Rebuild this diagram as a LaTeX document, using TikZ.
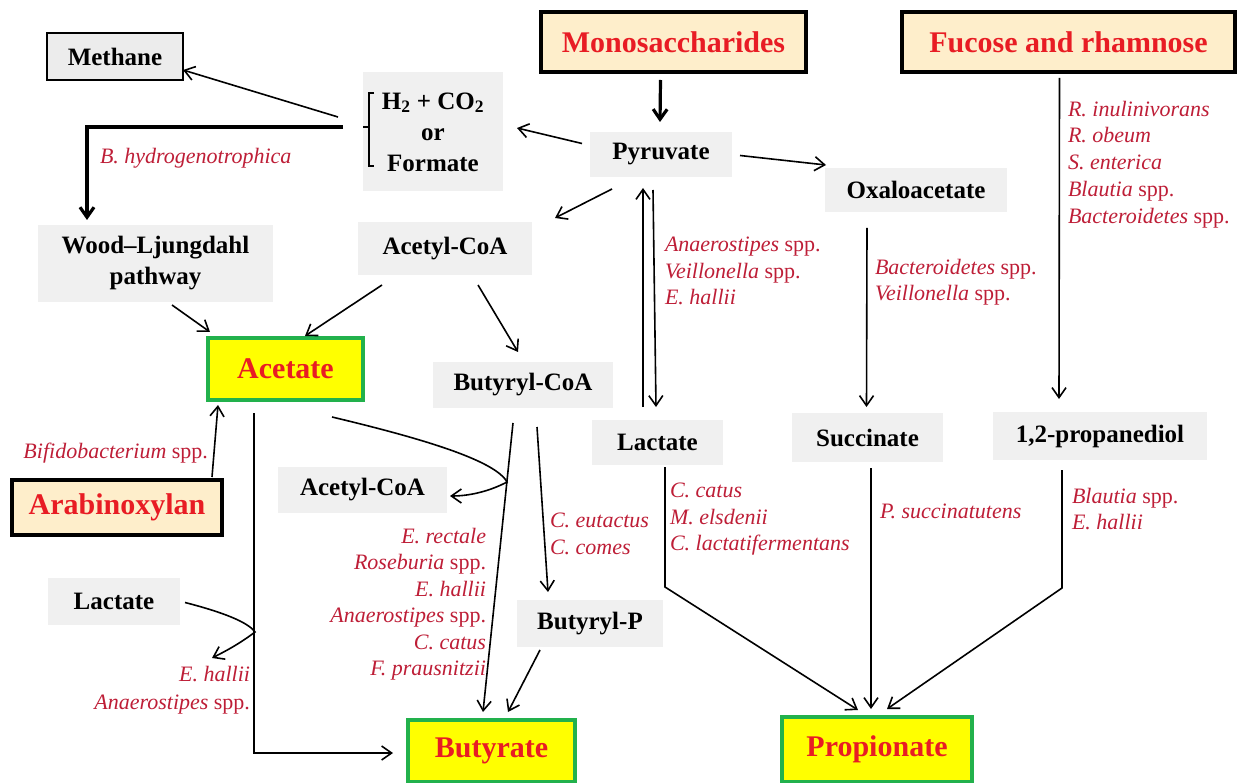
\documentclass[tikz,border=0pt]{standalone}
\usepackage{fontspec}
\setmainfont{Liberation Serif}
\usetikzlibrary{arrows.meta}
\definecolor{graybg}{RGB}{240,240,240}
\definecolor{methfill}{RGB}{236,236,236}
\definecolor{srcfill}{RGB}{254,238,203}
\definecolor{prodfill}{RGB}{255,255,0}
\definecolor{prodgreen}{RGB}{34,177,76}
\definecolor{titlered}{RGB}{232,28,36}
\definecolor{sppred}{RGB}{190,30,55}
\begin{document}
\begin{tikzpicture}[x=1pt,y=-1pt,
  every node/.style={inner sep=0pt, outer sep=0pt},
  gbox/.style={fill=graybg, font=\bfseries\fontsize{25}{31}\selectfont, align=center},
  methbox/.style={fill=methfill, draw=black, line width=1.4pt, font=\bfseries\fontsize{25}{31}\selectfont},
  src/.style={fill=srcfill, draw=black, line width=3.5pt, text=titlered, font=\bfseries\fontsize{30}{36}\selectfont},
  prod/.style={fill=prodfill, draw=prodgreen, line width=3.5pt, text=titlered, font=\bfseries\fontsize{30}{36}\selectfont},
  sp/.style={text=sppred, font=\fontsize{22}{26.5}\selectfont},
  arr/.style={line width=1.6pt, -{Straight Barb[length=10pt,width=14pt]}},
  tarr/.style={line width=3.2pt, -{Straight Barb[length=10pt,width=14pt]}}
]
\fill[white] (0,0) rectangle (1242,783);
\useasboundingbox (0,0) rectangle (1242,783);

% nodes
\node[methbox, minimum width=136pt, minimum height=47pt] (meth) at (115,56.5) {Methane};
\node[gbox, minimum width=140pt, minimum height=119pt] (h2) at (433,132) {H\textsubscript{2} + CO\textsubscript{2}\\or\\Formate};
\node[src, minimum width=265pt, minimum height=60pt] (mono) at (673.5,42) {Monosaccharides};
\node[src, minimum width=333pt, minimum height=60pt] (fuc) at (1068.5,42) {Fucose and rhamnose};
\node[gbox, minimum width=142pt, minimum height=45pt] (pyr) at (661,154.5) {Pyruvate};
\node[gbox, minimum width=182pt, minimum height=44pt] (oxa) at (916,190) {Oxaloacetate};
\node[gbox, minimum width=235pt, minimum height=77pt] (wl) at (155.5,263.5) {Wood--Ljungdahl\\pathway};
\node[gbox, minimum width=174pt, minimum height=53pt] (ac1) at (445,248.5) {Acetyl-CoA};
\node[prod, minimum width=155pt, minimum height=62pt] (acet) at (285.5,369) {Acetate};
\node[gbox, minimum width=180pt, minimum height=46pt] (bcoa) at (523,385) {Butyryl-CoA};
\node[gbox, minimum width=131pt, minimum height=45pt] (lac) at (657.5,442.5) {Lactate};
\node[gbox, minimum width=151pt, minimum height=49pt] (succ) at (867.5,437.5) {Succinate};
\node[gbox, minimum width=214pt, minimum height=48pt] (prd) at (1100,436) {1,2-propanediol};
\node[src, minimum width=210pt, minimum height=55pt] (arab) at (117,507.5) {Arabinoxylan};
\node[gbox, minimum width=169pt, minimum height=46pt] (ac2) at (362.5,490) {Acetyl-CoA};
\node[gbox, minimum width=132pt, minimum height=47pt] (lacL) at (114,601.5) {Lactate};
\node[gbox, minimum width=146pt, minimum height=47pt] (bp) at (590,623.5) {Butyryl-P};
\node[prod, minimum width=167pt, minimum height=62pt] (buty) at (491.5,751) {Butyrate};
\node[prod, minimum width=190pt, minimum height=65pt] (prop) at (877,749.5) {Propionate};

% bracket of h2 node
\draw[line width=1.3pt] ([shift={(11,-39)}]h2.west) -- ([shift={(6,-39)}]h2.west) -- ([shift={(6,34)}]h2.west) -- ([shift={(11,34)}]h2.west);
\draw[line width=1.3pt] ([shift={(6,-5)}]h2.west) -- ([shift={(0,-5)}]h2.west);

% species labels
\node[sp, anchor=base west] (lbhyd) at (100,164) {\textit{B. hydrogenotrophica}};
\node[sp, anchor=north west, align=left] (lbpyr) at (665,237) {\textit{Anaerostipes} spp.\\\textit{Veillonella} spp.\\\textit{E. hallii}};
\node[sp, anchor=north west, align=left] (lboxa) at (875,259) {\textit{Bacteroidetes} spp.\\\textit{Veillonella} spp.};
\node[sp, anchor=north west, align=left, font=\fontsize{22}{26.7}\selectfont] (lbfuc) at (1068,101) {\textit{R. inulinivorans}\\\textit{R. obeum}\\\textit{S. enterica}\\\textit{Blautia} spp.\\\textit{Bacteroidetes} spp.};
\node[sp, anchor=base east] (lbbif) at (208,458) {\textit{Bifidobacterium} spp.};
\node[sp, anchor=north east, align=right] (lbbut) at (486,528) {\textit{E. rectale}\\\textit{Roseburia} spp.\\\textit{E. hallii}\\\textit{Anaerostipes} spp.\\\textit{C. catus}\\\textit{F. prausnitzii}};
\node[sp, anchor=north west, align=left] (lbbp) at (550,513) {\textit{C. eutactus}\\\textit{C. comes}};
\node[sp, anchor=north west, align=left] (lblac) at (670,483) {\textit{C. catus}\\\textit{M. elsdenii}\\\textit{C. lactatifermentans}};
\node[sp, anchor=base west] (lbsuc) at (880,518) {\textit{P. succinatutens}};
\node[sp, anchor=north west, align=left] (lbprd) at (1072,488) {\textit{Blautia} spp.\\\textit{E. hallii}};
\node[sp, anchor=north east, align=right, font=\fontsize{22}{28}\selectfont] (lblacL) at (250,666) {\textit{E. hallii}\\\textit{Anaerostipes} spp.};

% helper coordinates
\coordinate (c1) at (507,482);
\coordinate (c2) at (255,632);
\coordinate (c3) at (212,658);
\coordinate (c4) at (665,587);
\coordinate (c5) at (1062,588);

% connectors
\draw[tarr] ([shift={(-13,8)}]mono.south) -- ([shift={(-1,-10)}]pyr.north);
\draw[arr] ([shift={(-8,-11)}]pyr.west) -- ([shift={(14,-4)}]h2.east);
\draw[arr] ([shift={(8,1)}]pyr.east) -- ([shift={(1,-3)}]oxa.north west);
\draw[arr] ([shift={(-49,12)}]pyr.south) -- ([shift={(23,-4)}]ac1.north east);
\draw[arr] ([shift={(-14.5,-13)}]lac.north) -- ([shift={(-18,11)}]pyr.south);
\draw[arr] ([shift={(-8,13)}]pyr.south) -- ([shift={(-1.5,-13)}]lac.north);
\draw[arr] ([shift={(-25,-15)}]h2.west) -- ([shift={(0,13.5)}]meth.east);
\draw[tarr] ([shift={(-20,-5)}]h2.west) -| ([shift={(-68.5,-5)}]wl.north);
\draw[arr] ([shift={(16.5,3)}]wl.south) -- ([shift={(2,-6)}]acet.north west);
\draw[arr] ([shift={(-63,10)}]ac1.south) -- ([shift={(19.5,-2)}]acet.north);
\draw[arr] ([shift={(33,10)}]ac1.south) -- ([shift={(-5,-10)}]bcoa.north);
\draw[arr] ([shift={(-10,-3)}]arab.north east) -- ([shift={(10,5)}]acet.south west);
\draw[arr] ([shift={(-31.5,13)}]acet.south) |- ([shift={(-15,2)}]buty.west);
\draw[arr] ([shift={(-31,17)}]acet.south east) .. controls (420,438) and (495,460) .. (c1) .. controls (492,490) and (472,496) .. ([shift={(3,6)}]ac2.east);
\draw[arr] ([shift={(5,1)}]lacL.east) .. controls (222,612) and (248,622) .. (c2) .. controls (242,642) and (228,650) .. (c3);
\draw[arr] ([shift={(-10,15)}]bcoa.south) -- ([shift={(-8.5,-8)}]buty.north);
\draw[arr] ([shift={(14,19)}]bcoa.south) -- ([shift={(-42,-8)}]bp.north);
\draw[arr] ([shift={(-50,3)}]bp.south) -- ([shift={(16.5,-8)}]buty.north);
\draw[arr] ([shift={(7.5,2)}]lac.south) -- (c4) -- ([shift={(-19,-7)}]prop.north);
\draw[arr] ([shift={(3.5,6)}]succ.south) -- ([shift={(-6,-8)}]prop.north);
\draw[arr] ([shift={(-38,10)}]prd.south) -- (c5) -- ([shift={(10,-8)}]prop.north);
\draw[arr] ([shift={(-49,16)}]oxa.south) -- ([shift={(-1,-6)}]succ.north);
\draw[arr] ([shift={(-9,6)}]fuc.south) -- ([shift={(-41,-13)}]prd.north);
\end{tikzpicture}
\end{document}
